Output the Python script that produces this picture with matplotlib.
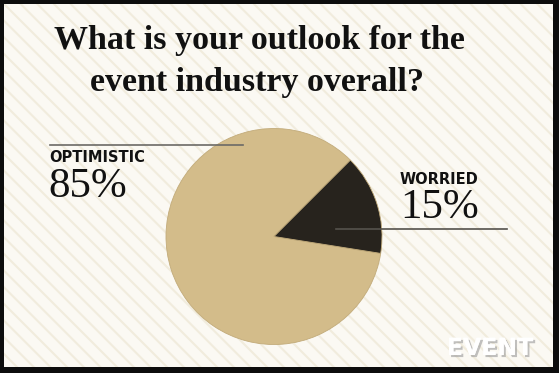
import matplotlib
matplotlib.use("Agg")
import matplotlib.pyplot as plt
import matplotlib.patheffects as pe
from matplotlib.patches import Rectangle

# chart data
categories = ["OPTIMISTIC", "WORRIED"]
shares = [85, 15]
colors = ["#d3bc8a", "#27231d"]
title_lines = ["What is your outlook for the", "event industry overall?"]

W, H = 559, 373
plt.rcParams["hatch.linewidth"] = 1.5
fig = plt.figure(figsize=(W / 100, H / 100), dpi=100, facecolor="#0d0d0d")
ax = fig.add_axes([0, 0, 1, 1])

# cream card inside the black frame (pixel coords, y measured from bottom)
card = Rectangle((4, 6), 549, 363, facecolor="#fbf9f3", edgecolor="none", zorder=0)
ax.add_patch(card)
tex = Rectangle((4, 6), 549, 363, facecolor="none", edgecolor="#f1ecdd",
                hatch="\\\\", linewidth=0, zorder=0.5)
ax.add_patch(tex)

ax.pie(shares, colors=colors, startangle=45, center=(274, H - 236.5), radius=108,
       wedgeprops=dict(linewidth=0.6, edgecolor="#c2ab7a"), frame=True)
ax.set_xlim(0, W)
ax.set_ylim(0, H)
ax.set_aspect("equal")
ax.set_axis_off()

# title
ax.text(259, H - 41, title_lines[0], ha="center", va="center", fontsize=24.5,
        family="Liberation Serif", fontweight="bold", color="#111111")
ax.text(257, H - 82, title_lines[1], ha="center", va="center", fontsize=24.5,
        family="Liberation Serif", fontweight="bold", color="#111111")

# leader lines
ax.plot([50, 243], [H - 145, H - 145], color="#6b6a66", lw=1.2, zorder=3)
ax.plot([336, 507], [H - 229, H - 229], color="#55524c", lw=1.2, zorder=3)

# labels
ax.text(49, H - 158, categories[0], ha="left", va="center", fontsize=10.5,
        family="DejaVu Sans", fontweight="bold", color="#111111")
ax.text(48, H - 187, f"{shares[0]}%", ha="left", va="center", fontsize=31,
        family="Liberation Serif", color="#111111")
ax.text(400, H - 179, categories[1], ha="left", va="center", fontsize=10.5,
        family="DejaVu Sans", fontweight="bold", color="#111111")
ax.text(400, H - 208, f"{shares[1]}%", ha="left", va="center", fontsize=31,
        family="Liberation Serif", color="#111111")

# logo
ax.text(490, H - 348, "EVENT", ha="center", va="center", fontsize=17,
        family="DejaVu Sans", fontweight="bold", color="white",
        path_effects=[pe.withSimplePatchShadow(offset=(1.5, -1.5), shadow_rgbFace="#999999", alpha=0.6),
                      pe.Normal()])

fig.savefig("out.png", dpi=100, facecolor=fig.get_facecolor())
